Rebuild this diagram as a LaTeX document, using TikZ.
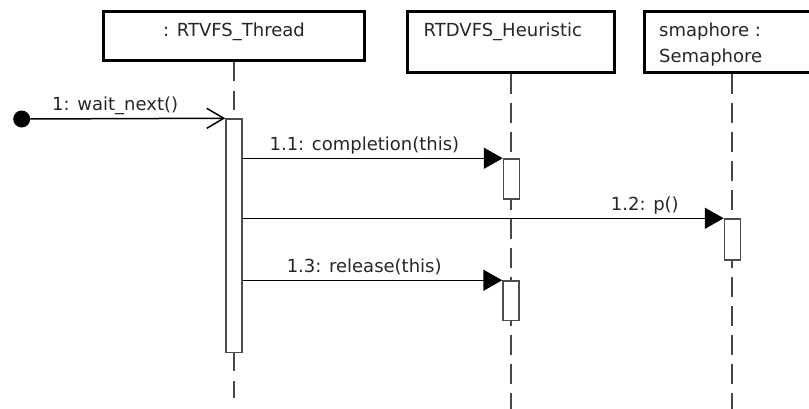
\documentclass[tikz,border=0pt]{standalone}
\usepackage{fontspec}
\setmainfont{DejaVu Sans}
\usetikzlibrary{arrows.meta}
\begin{document}
\begin{tikzpicture}[x=1pt,y=-1pt,
  txt/.style={inner sep=0pt, font=\fontsize{18}{22}\selectfont, text=black!85},
  objbox/.style={draw=black, line width=3pt, fill=white, inner sep=0pt},
  life/.style={draw=black!72, line width=1.9pt, dash pattern=on 19.5pt off 9.5pt},
  bar/.style={draw=black!70, line width=1.5pt, fill=white, inner sep=0pt, minimum width=16pt},
  call/.style={draw=black, line width=1.5pt},
  sync/.style={call, -{Triangle[length=19pt,width=21pt]}},
  msglbl/.style={txt, anchor=base, yshift=8pt}
]
\useasboundingbox (0,0) rectangle (809,408);

% lifeline heads
\node[objbox, minimum width=261pt, minimum height=49.3pt] (thread) at (234,35.65) {};
\node[objbox, minimum width=207pt, minimum height=61.8pt] (heur) at (511,41.9) {};
\node[objbox, minimum width=176pt, minimum height=61.8pt] (sem) at (732,41.9) {};

% lifelines
\coordinate (e1) at (234,398);
\coordinate (e2) at (511,412);
\coordinate (e3) at (732,412);
\draw[life] (thread.south) -- (e1);
\draw[life] (heur.south) -- (e2);
\draw[life] (sem.south) -- (e3);

% redraw heads over lifelines
\node[objbox, minimum width=261pt, minimum height=49.3pt] at (thread) {};
\node[objbox, minimum width=207pt, minimum height=61.8pt] at (heur) {};
\node[objbox, minimum width=176pt, minimum height=61.8pt] at (sem) {};

\node[txt, anchor=base] (t1) at (234,36) {: RTVFS\_Thread};
\node[txt, anchor=base west] (t2) at (423.5,36.5) {RTDVFS\_Heuristic};
\node[txt, anchor=base west] (t3) at (659,36) {smaphore :};
\node[txt, anchor=base west] (t4) at (659,62) {Semaphore};

% activation bars
\node[bar, minimum height=233.7pt] (a1) at (234,235.85) {};
\node[bar, minimum height=40pt] (a2) at (511.5,179) {};
\node[bar, minimum height=41pt] (a3) at (732.5,239.5) {};
\node[bar, minimum height=39.7pt] (a4) at (511,300.85) {};

% start
\node[circle, fill=black, minimum size=17pt, inner sep=0pt] (start) at (21.7,119) {};

% messages
\draw[call, -{Straight Barb[length=17pt,width=20pt]}] (start) -- (a1.north west)
  node[msglbl, pos=0.435] {1: wait\_next()};
\draw[sync] (a2.north west -| a1.east) -- (a2.north west)
  node[msglbl, pos=0.468] {1.1: completion(this)};
\draw[sync] (a3.north west -| a1.east) -- (a3.north west)
  node[msglbl, pos=0.836] {1.2: p()};
\draw[sync] (a4.north west -| a1.east) -- (a4.north west)
  node[msglbl, pos=0.468] {1.3: release(this)};
\end{tikzpicture}
\end{document}
